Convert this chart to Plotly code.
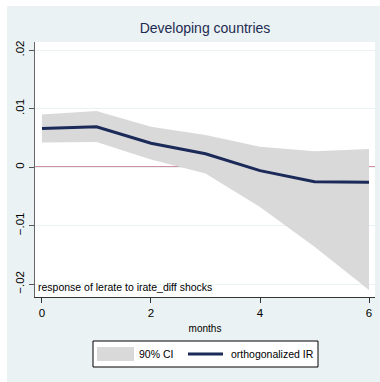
import plotly.graph_objects as go

# Impulse response of lerate to an irate_diff shock, developing countries
months = [0, 1, 2, 3, 4, 5, 6]
irf = [0.0066, 0.0069, 0.0041, 0.0023, -0.0006, -0.0025, -0.0026]
ci_upper = [0.0090, 0.0096, 0.0069, 0.0055, 0.0035, 0.0027, 0.0031]
ci_lower = [0.0042, 0.0043, 0.0013, -0.0011, -0.0068, -0.0136, -0.0210]

y_ticks = [-0.02, -0.01, 0, 0.01, 0.02]
y_tick_labels = ["\u2212.02", "\u2212.01", "0", ".01", ".02"]
x_ticks = [0, 2, 4, 6]

W, H = 380, 382
L, R, T, B = 35, 5, 42, 85
PW, PH = W - L - R, H - T - B

BG = "#EAF2F3"
NAVY = "#1B2A58"
FILLC = "#D9D9D9"
FONT = "Liberation Sans, Arial, sans-serif"


def px_x(p):
    return (p - L) / PW


def px_y(p):
    return (H - B - p) / PH


fig = go.Figure()

fig.add_trace(go.Scatter(x=months, y=ci_lower, mode="lines",
                         line=dict(width=0, color=FILLC),
                         showlegend=False, hoverinfo="skip"))
fig.add_trace(go.Scatter(x=months, y=ci_upper, mode="lines",
                         line=dict(width=0, color=FILLC),
                         fill="tonexty", fillcolor=FILLC,
                         name="90% CI", showlegend=False))
fig.add_trace(go.Scatter(x=months, y=irf, mode="lines",
                         line=dict(width=3, color=NAVY),
                         name="orthogonalized IR", showlegend=False))

shapes = [
    # graph region
    dict(type="rect", xref="paper", yref="paper", layer="below",
         x0=px_x(7), x1=px_x(W + 2), y0=px_y(H + 2), y1=px_y(6),
         fillcolor=BG, line=dict(width=0)),
    # plot region
    dict(type="rect", xref="paper", yref="paper", layer="below",
         x0=0, x1=1, y0=0, y1=1, fillcolor="white", line=dict(width=0)),
    # zero reference line
    dict(type="line", xref="paper", yref="y", x0=0, x1=1, y0=0, y1=0,
         line=dict(color="#A8203C", width=1.3), layer="between"),
    # legend box
    dict(type="rect", xref="paper", yref="paper",
         x0=px_x(93), x1=px_x(318), y0=px_y(367), y1=px_y(341),
         fillcolor="white", line=dict(color="black", width=1)),
    # legend swatch: CI band
    dict(type="rect", xref="paper", yref="paper",
         x0=px_x(97), x1=px_x(134), y0=px_y(361), y1=px_y(347),
         fillcolor=FILLC, line=dict(width=0)),
    # legend swatch: IRF line
    dict(type="line", xref="paper", yref="paper",
         x0=px_x(188), x1=px_x(223), y0=px_y(354), y1=px_y(354),
         line=dict(color=NAVY, width=3)),
]

annotations = [
    dict(text="response of lerate to irate_diff shocks", xref="paper", yref="paper",
         x=px_x(36), y=px_y(287), xanchor="left", yanchor="middle",
         showarrow=False, font=dict(size=10.5, color="black", family=FONT)),
    dict(text="90% CI", xref="paper", yref="paper",
         x=px_x(137), y=px_y(354), xanchor="left", yanchor="middle",
         showarrow=False, font=dict(size=10.5, color="black", family=FONT)),
    dict(text="orthogonalized IR", xref="paper", yref="paper",
         x=px_x(229), y=px_y(354), xanchor="left", yanchor="middle",
         showarrow=False, font=dict(size=10.5, color="black", family=FONT)),
]

fig.update_layout(
    width=W, height=H,
    margin=dict(l=L, r=R, t=T, b=B, pad=0),
    paper_bgcolor="white", plot_bgcolor="white",
    font=dict(family=FONT, size=11, color="black"),
    title=dict(text="Developing countries", x=0.5, xref="paper", xanchor="center",
               y=1 - 28 / H, yref="container", yanchor="middle",
               font=dict(size=14, color="#1E2B52", family=FONT)),
    shapes=shapes, annotations=annotations,
    showlegend=False,
    xaxis=dict(range=[-0.128, 6.11], tickvals=x_ticks, ticks="outside", ticklen=5,
               tickcolor="#333333", showline=True, linecolor="#333333", linewidth=1,
               showgrid=False, zeroline=False, tickfont=dict(size=11.5),
               title=dict(text="months", font=dict(size=10, family=FONT), standoff=7)),
    yaxis=dict(range=[-0.0222, 0.0214], tickvals=y_ticks, ticktext=y_tick_labels,
               tickangle=-90, ticks="outside", ticklen=5, tickcolor="#555555",
               showline=True, linecolor="#666666", linewidth=1, tickfont=dict(size=11.5),
               showgrid=True, gridcolor=BG, gridwidth=1, zeroline=False),
)

fig.write_html("out.html")
